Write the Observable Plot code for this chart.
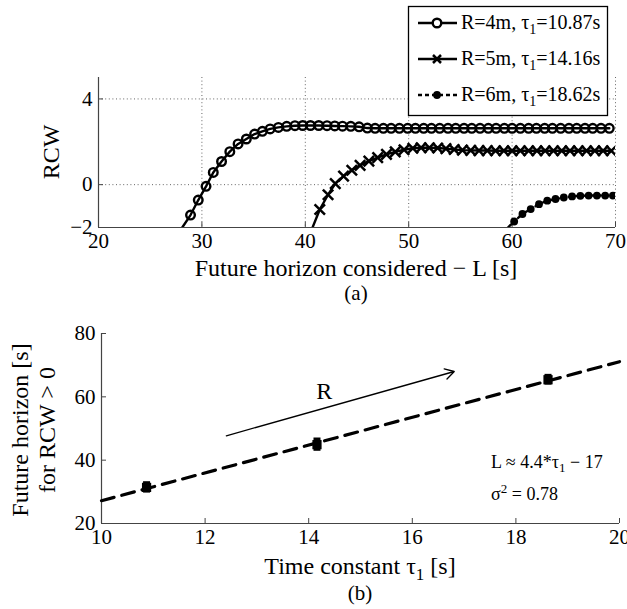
<!DOCTYPE html>
<html><head><meta charset="utf-8">
<script src="https://cdn.jsdelivr.net/npm/d3@7"></script>
<script src="https://cdn.jsdelivr.net/npm/@observablehq/plot@0.6"></script>
<style>
body{margin:0;background:#fff;}
#wrap{width:627px;height:609px;position:relative;overflow:hidden;background:#fff;}
svg{display:block;}
</style></head><body><div id="wrap"></div>
<script>
const serif = '"Liberation Serif", "DejaVu Serif", serif';

// ---------- Panel (a) data ----------
const xTicksA = [20, 30, 40, 50, 60, 70];
const yTicksA = [-2, 0, 4];
const gridXA = [30, 40, 50, 60, 70];
const gridYA = [0, 4];

const r4L = [28.9,29.65,30.4,31.1,31.9,32.7,33.5,34.3,35.1,35.85,36.6,37.4,38.2,39.0,39.75,40.5,41.3,42.1,42.85,43.6,44.4,45.2,46.0,46.75,47.55,48.3,49.1,49.9,50.65,51.45,52.2,53.0,53.8,54.55,55.35,56.1,56.9,57.7,58.45,59.25,60.0,60.8,61.6,62.35,63.15,63.9,64.7,65.5,66.25,67.05,67.8,68.6,69.4];
const r4V = [-1.42,-0.72,-0.08,0.57,1.08,1.54,1.90,2.13,2.36,2.49,2.60,2.67,2.72,2.75,2.76,2.76,2.76,2.75,2.74,2.73,2.72,2.70,2.64,2.63,2.63,2.63,2.63,2.63,2.63,2.63,2.63,2.63,2.63,2.63,2.63,2.63,2.63,2.63,2.63,2.63,2.63,2.63,2.63,2.63,2.63,2.63,2.63,2.63,2.63,2.63,2.63,2.63,2.63];
const r5L = [41.4,42.2,42.9,43.7,44.5,45.3,46.15,47.0,47.85,48.7,49.55,50.4,51.2,52.0,52.8,53.6,54.4,55.2,56.0,56.8,57.6,58.4,59.2,60.0,60.8,61.6,62.4,63.2,64.0,64.8,65.6,66.4,67.2,68.0,68.8,69.6];
const r5V = [-1.16,-0.47,0.05,0.40,0.67,0.90,1.10,1.26,1.41,1.53,1.63,1.70,1.72,1.72,1.71,1.68,1.64,1.61,1.60,1.59,1.59,1.58,1.58,1.58,1.58,1.58,1.58,1.58,1.58,1.58,1.58,1.58,1.58,1.58,1.58,1.58];
const r6L = [60.2,61.0,61.8,62.6,63.4,64.2,65.0,65.8,66.6,67.4,68.2,69.0,69.75];
const r6V = [-1.72,-1.37,-1.14,-0.91,-0.75,-0.67,-0.60,-0.55,-0.52,-0.51,-0.51,-0.51,-0.51];
// where each curve enters through the bottom of the axes
const leadL = [28.1, 40.7, 59.6];
const leadV = [-2, -2, -2];

const seriesNames = ["R=4m, ", "R=5m, ", "R=6m, "];
const seriesTau = ["=10.87s", "=14.16s", "=18.62s"];

// ---------- Panel (b) data ----------
const xTicksB = [10, 12, 14, 16, 18, 20];
const yTicksB = [20, 40, 60, 80];
const tau1 = [10.87, 14.16, 18.62];
const horizon = [31.4, 44.9, 65.4];
const horizonErr = [1.8, 2.1, 1.7];
const fitTau = [10, 20];
const fitL = [27.2, 71.1];
const arrowTau = [12.41, 16.81];
const arrowL = [47.7, 68.0];
const rLabel = {tau: 14.3, L: 61.9};
const eqPos = {tau: 17.53, L1: 39.3, L2: 29.3};

const fmtMinus = d => d < 0 ? "\u2212" + (-d) : String(d);

// ---------- build panel (a) ----------
const mk = (L, V) => L.map((x, i) => ({x, y: V[i]}));
const s4 = mk(r4L, r4V), s5 = mk(r5L, r5V), s6 = mk(r6L, r6V);
const l4 = [{x: leadL[0], y: leadV[0]}, ...s4];
const l5 = [{x: leadL[1], y: leadV[1]}, ...s5];
const l6 = [{x: leadL[2], y: leadV[2]}, ...s6];

const plotA = Plot.plot({
  width: 627, height: 305,
  marginLeft: 98, marginRight: 12, marginTop: 77, marginBottom: 78,
  x: {domain: [20, 70]},
  y: {domain: [-2, 5]},
  style: {fontFamily: serif, fontSize: "21px", color: "black", background: "white", overflow: "visible"},
  marks: [
    Plot.gridX(gridXA, {stroke: "#666", strokeOpacity: 1, strokeDasharray: "1,2.6"}),
    Plot.gridY(gridYA, {stroke: "#666", strokeOpacity: 1, strokeDasharray: "1,2.6"}),
    Plot.axisX({ticks: xTicksA, tickSize: -5, tickPadding: 11, label: null, stroke: "#444"}),
    Plot.axisY({ticks: yTicksA, tickSize: -5, tickPadding: 11, label: null, tickFormat: fmtMinus, stroke: "#444"}),
    Plot.ruleX([20], {stroke: "#444", strokeWidth: 1.2}),
    Plot.ruleY([-2], {stroke: "#444", strokeWidth: 1.2}),
    Plot.line(l4, {x: "x", y: "y", stroke: "black", strokeWidth: 2.4, clip: true}),
    Plot.dot(s4, {x: "x", y: "y", r: 4.3, stroke: "black", strokeWidth: 2.4, fill: "none", clip: true}),
    Plot.line(l5, {x: "x", y: "y", stroke: "black", strokeWidth: 2.4, clip: true}),
    Plot.dot(s5, {x: "x", y: "y", symbol: "times", r: 4.8, stroke: "black", strokeWidth: 2.5, clip: true}),
    Plot.line(l6, {x: "x", y: "y", stroke: "black", strokeWidth: 2.4, strokeDasharray: "4,3", clip: true}),
    Plot.dot(s6, {x: "x", y: "y", r: 3.9, fill: "black", clip: true})
  ]
});

// ---------- build panel (b) ----------
const pts = tau1.map((t, i) => ({x: t, y: horizon[i], lo: horizon[i] - horizonErr[i], hi: horizon[i] + horizonErr[i]}));
const fit = fitTau.map((t, i) => ({x: t, y: fitL[i]}));
const arr = [{x1: arrowTau[0], y1: arrowL[0], x2: arrowTau[1], y2: arrowL[1]}];

const plotB = Plot.plot({
  width: 627, height: 304,
  marginLeft: 101, marginRight: 8, marginTop: 28, marginBottom: 86,
  x: {domain: [10, 20]},
  y: {domain: [20, 80]},
  style: {fontFamily: serif, fontSize: "21px", color: "black", background: "white", overflow: "visible"},
  marks: [
    Plot.axisX({ticks: xTicksB, tickSize: -5, tickPadding: 11, label: null, stroke: "#444"}),
    Plot.axisY({ticks: yTicksB, tickSize: -5, tickPadding: 11, label: null, stroke: "#444"}),
    Plot.ruleX([10], {stroke: "#444", strokeWidth: 1.2}),
    Plot.ruleY([20], {stroke: "#444", strokeWidth: 1.2}),
    Plot.line(fit, {x: "x", y: "y", stroke: "black", strokeWidth: 3.2, strokeDasharray: "13,8"}),
    Plot.ruleX(pts, {x: "x", y1: "lo", y2: "hi", stroke: "black", strokeWidth: 7}),
    Plot.dot(pts, {x: "x", y: "y", symbol: "square", r: 5.2, fill: "black"}),
    Plot.arrow(arr, {x1: "x1", y1: "y1", x2: "x2", y2: "y2", stroke: "black", strokeWidth: 1.3, headLength: 12, bend: 0}),
    Plot.text([rLabel], {x: "tau", y: "L", text: () => "R", fontSize: 24, fill: "black"})
  ]
});

const wrap = document.getElementById("wrap");
wrap.appendChild(plotA);
wrap.appendChild(plotB);

// ---------- labels with sub/superscripts ----------
const A = d3.select(plotA);
const B = d3.select(plotB);

function tauText(sel, before, after, sub = "1", shift = 5, subSize = 14) {
  sel.append("tspan").text(before + "\u03c4");
  sel.append("tspan").attr("dy", shift).attr("font-size", subSize).text(sub);
  sel.append("tspan").attr("dy", -shift).text(after);
}

// panel (a) axis labels
A.append("text").attr("transform", "translate(53,152) rotate(-90)")
  .attr("text-anchor", "middle").attr("dominant-baseline", "middle")
  .attr("font-family", serif).attr("font-size", 24).text("RCW");
A.append("text").attr("x", 356).attr("y", 270)
  .attr("text-anchor", "middle").attr("dominant-baseline", "middle")
  .attr("font-family", serif).attr("font-size", 24).text("Future horizon considered \u2212 L [s]");
A.append("text").attr("x", 356).attr("y", 295)
  .attr("text-anchor", "middle").attr("dominant-baseline", "middle")
  .attr("font-family", serif).attr("font-size", 21).text("(a)");

// legend
const leg = A.append("g").attr("font-family", serif).attr("font-size", 20).attr("text-anchor", "start");
leg.append("rect").attr("x", 408.5).attr("y", 6.5).attr("width", 199).attr("height", 109)
  .attr("fill", "white").attr("stroke", "black").attr("stroke-width", 1.3);
const rowsY = [23, 59, 95];
rowsY.forEach((yy, i) => {
  const g = leg.append("g");
  g.append("line").attr("x1", 418).attr("x2", 457).attr("y1", yy).attr("y2", yy)
    .attr("stroke", "black").attr("stroke-width", 2.4)
    .attr("stroke-dasharray", i === 2 ? "4,3" : null);
  if (i === 0) g.append("circle").attr("cx", 437).attr("cy", yy).attr("r", 4.3).attr("fill", "white").attr("stroke", "black").attr("stroke-width", 2.4);
  if (i === 1) g.append("path").attr("d", `M${433},${yy-4}L${441},${yy+4}M${433},${yy+4}L${441},${yy-4}`).attr("stroke", "black").attr("stroke-width", 2.5);
  if (i === 2) g.append("circle").attr("cx", 437).attr("cy", yy).attr("r", 3.9).attr("fill", "black");
  const t = g.append("text").attr("x", 461).attr("y", yy + 6).attr("text-anchor", "start");
  tauText(t, seriesNames[i], seriesTau[i]);
});

// panel (b) labels
B.append("text").attr("transform", "translate(22,125) rotate(-90)")
  .attr("text-anchor", "middle").attr("dominant-baseline", "middle")
  .attr("font-family", serif).attr("font-size", 24).text("Future horizon [s]");
B.append("text").attr("transform", "translate(49,125) rotate(-90)")
  .attr("text-anchor", "middle").attr("dominant-baseline", "middle")
  .attr("font-family", serif).attr("font-size", 24).text("for RCW > 0");
const xl = B.append("text").attr("x", 360).attr("y", 269)
  .attr("text-anchor", "middle")
  .attr("font-family", serif).attr("font-size", 24);
tauText(xl, "Time constant ", " [s]", "1", 6, 17);
B.append("text").attr("x", 360).attr("y", 290)
  .attr("text-anchor", "middle").attr("dominant-baseline", "middle")
  .attr("font-family", serif).attr("font-size", 21).text("(b)");

const sx = plotB.scale("x"), sy = plotB.scale("y");
const eq1 = B.append("text").attr("x", sx.apply(eqPos.tau)).attr("y", sy.apply(eqPos.L1) + 6)
  .attr("text-anchor", "start").attr("font-family", serif).attr("font-size", 18);
tauText(eq1, "L \u2248 4.4*", " \u2212 17", "1", 4, 13);
const eq2 = B.append("text").attr("x", sx.apply(eqPos.tau)).attr("y", sy.apply(eqPos.L2) + 6)
  .attr("text-anchor", "start").attr("font-family", serif).attr("font-size", 18);
eq2.append("tspan").text("\u03c3");
eq2.append("tspan").attr("dy", -7).attr("font-size", 13).text("2");
eq2.append("tspan").attr("dy", 7).text(" = 0.78");
</script>
</body></html>
